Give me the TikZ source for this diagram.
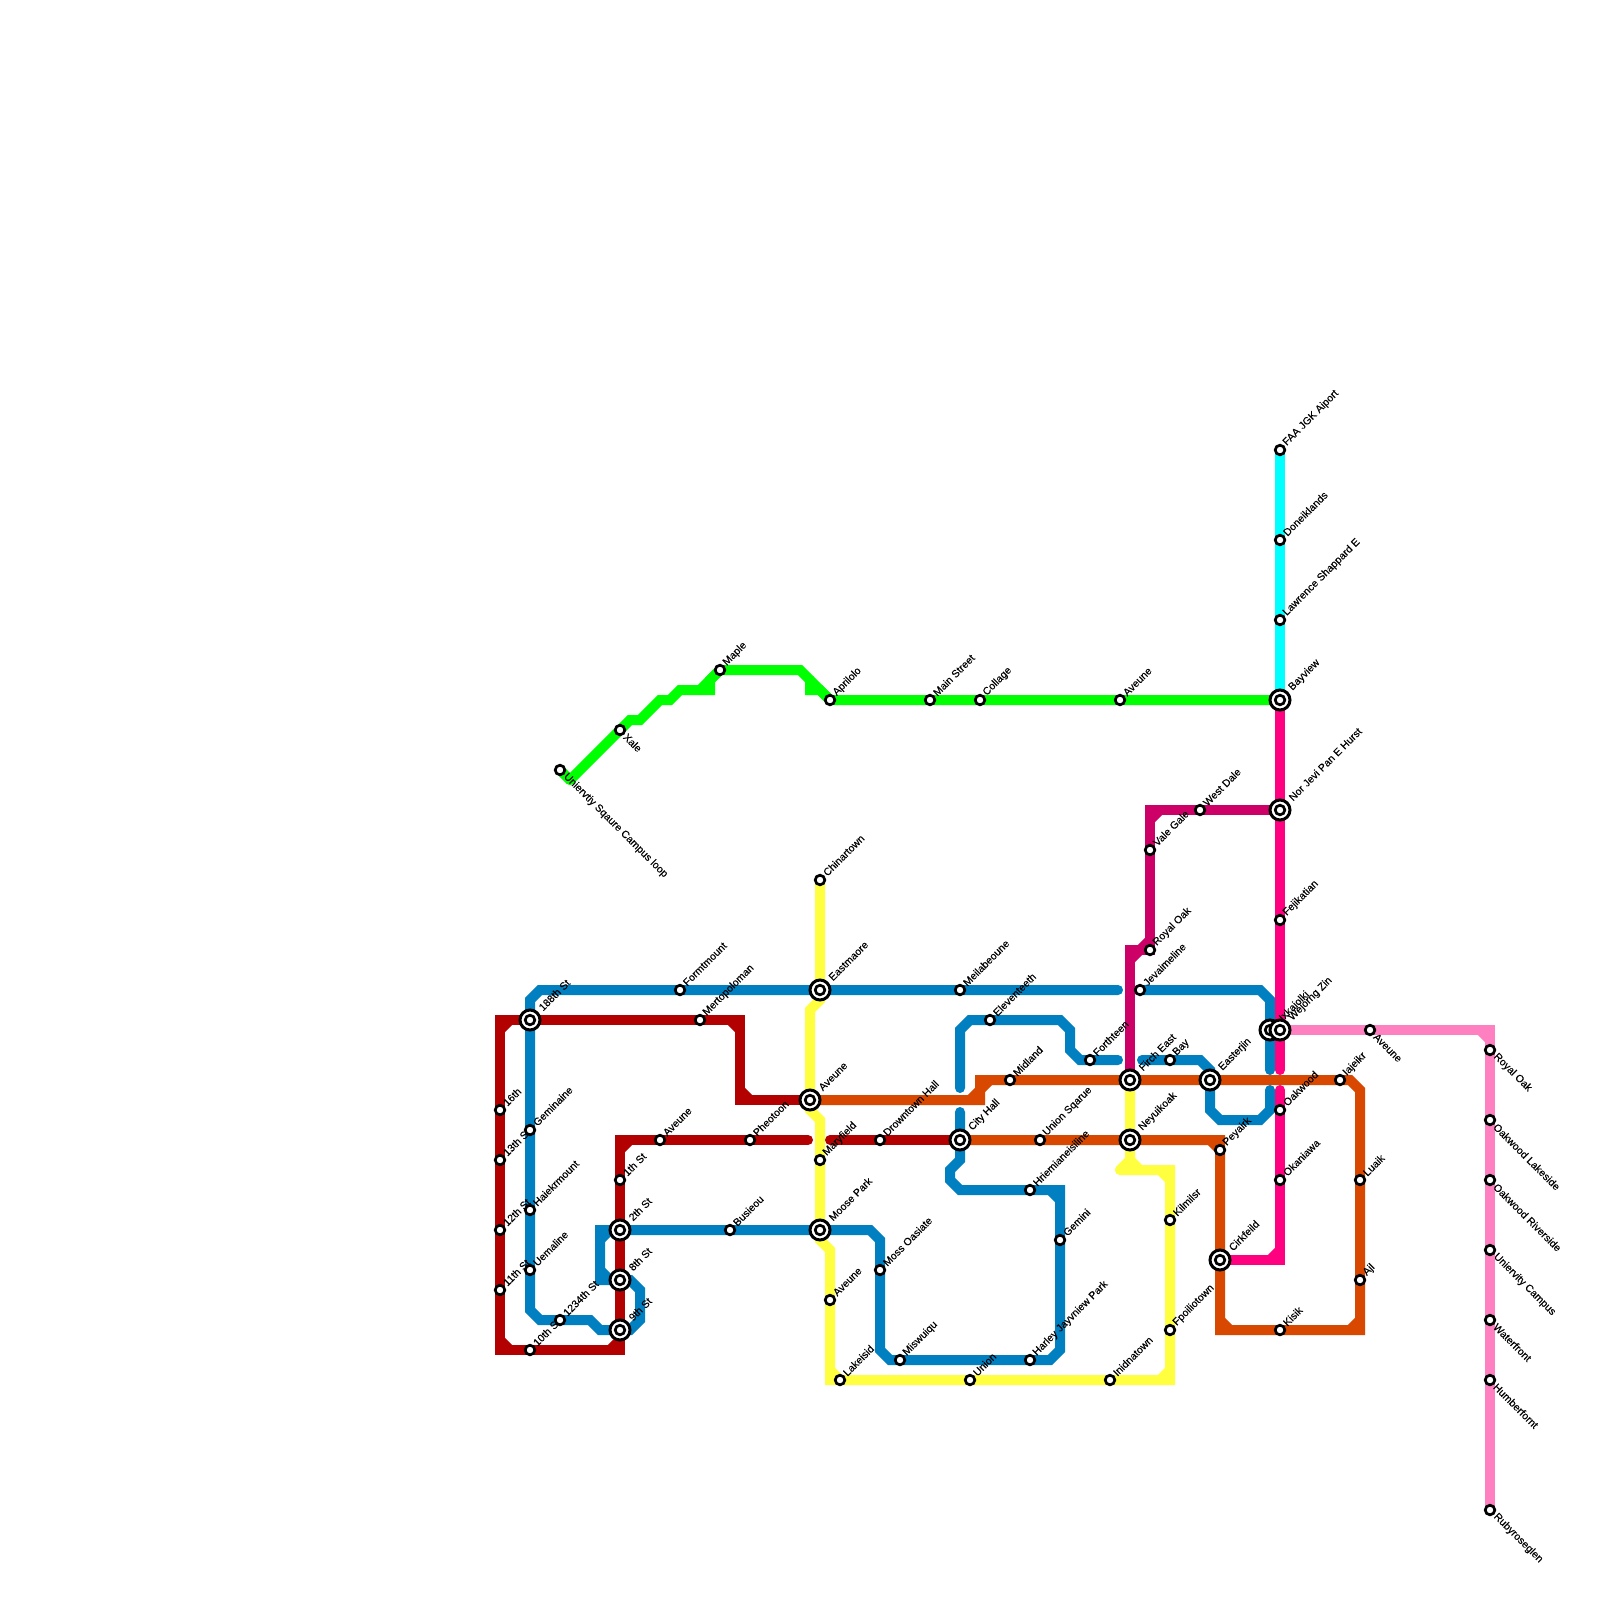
\documentclass[tikz,border=0pt]{standalone}
\usepackage{fontspec}
\setmainfont{Liberation Sans}
\newfontfamily\labfont{Liberation Sans}[FakeBold=0.15]
\pgfdeclarelayer{top}
\pgfsetlayers{main,top}
\definecolor{cred}{HTML}{B30000}
\definecolor{cblue}{HTML}{0080C0}
\definecolor{cgreen}{HTML}{00FF00}
\definecolor{ccyan}{HTML}{00FFFF}
\definecolor{cpink}{HTML}{FF0080}
\definecolor{cpurple}{HTML}{CC0066}
\definecolor{cpale}{HTML}{FF80C0}
\definecolor{corange}{HTML}{D94800}
\definecolor{cyellow}{HTML}{FFFF40}
\tikzset{
 metro/.style={line width=5pt,line join=miter,line cap=round},
 stn/.style={circle,draw=black,fill=white,line width=1.35pt,minimum size=4.8pt,inner sep=0pt,outer sep=0pt},
 hubo/.style={circle,draw=black,fill=white,line width=1.5pt,minimum size=10pt,inner sep=0pt,outer sep=0pt},
 hubi/.style={stn},
 lab/.style={anchor=west,inner sep=0pt,font=\labfont\fontsize{5.25pt}{6pt}\selectfont,text=black},
}
\newcommand{\SU}[2]{\node[lab,rotate=45] (#1-l) at ([shift={(4.6,-5.6)}]#1) {#2};
 \begin{pgfonlayer}{top}\node[stn] (#1-s) at (#1) {};\end{pgfonlayer}}
\newcommand{\SD}[2]{\node[lab,rotate=-45] (#1-l) at ([shift={(5,5)}]#1) {#2};
 \begin{pgfonlayer}{top}\node[stn] (#1-s) at (#1) {};\end{pgfonlayer}}
\newcommand{\HU}[2]{\node[lab,rotate=45] (#1-l) at ([shift={(10.2,-10.8)}]#1) {#2};
 \begin{pgfonlayer}{top}\node[hubo] (#1-s) at (#1) {};\node[hubi] (#1-i) at (#1) {};\end{pgfonlayer}}
\begin{document}
\begin{tikzpicture}[x=0.5pt,y=-0.5pt]
\useasboundingbox (0,0) rectangle (1600,1600);
\fill[white] (0,0) rectangle (1600,1600);
% stations
\coordinate (a16) at (500,1110);
\coordinate (a13) at (500,1160);
\coordinate (a12) at (500,1230);
\coordinate (a11) at (500,1290);
\coordinate (a10) at (530,1350);
\coordinate (a1234) at (560,1320);
\coordinate (gemi) at (530,1130);
\coordinate (haie) at (530,1210);
\coordinate (uema) at (530,1270);
\coordinate (a188) at (530,1020);
\coordinate (a1th) at (620,1180);
\coordinate (a2th) at (620,1230);
\coordinate (a8th) at (620,1280);
\coordinate (a9th) at (620,1330);
\coordinate (avea) at (660,1140);
\coordinate (pheo) at (750,1140);
\coordinate (busi) at (730,1230);
\coordinate (form) at (680,990);
\coordinate (mert) at (700,1020);
\coordinate (east) at (820,990);
\coordinate (chin) at (820,880);
\coordinate (aveb) at (810,1100);
\coordinate (mary) at (820,1160);
\coordinate (moos) at (820,1230);
\coordinate (avec) at (830,1300);
\coordinate (lake) at (840,1380);
\coordinate (mosso) at (880,1270);
\coordinate (misw) at (900,1360);
\coordinate (drow) at (880,1140);
\coordinate (city) at (960,1140);
\coordinate (meil) at (960,990);
\coordinate (elev) at (990,1020);
\coordinate (midl) at (1010,1080);
\coordinate (usq) at (1040,1140);
\coordinate (hrie) at (1030,1190);
\coordinate (gemb) at (1060,1240);
\coordinate (harl) at (1030,1360);
\coordinate (unio) at (970,1380);
\coordinate (inid) at (1110,1380);
\coordinate (fpoi) at (1170,1330);
\coordinate (kilm) at (1170,1220);
\coordinate (fort) at (1090,1060);
\coordinate (firc) at (1130,1080);
\coordinate (neyu) at (1130,1140);
\coordinate (jeva) at (1140,990);
\coordinate (bay) at (1170,1060);
\coordinate (eastj) at (1210,1080);
\coordinate (peya) at (1220,1150);
\coordinate (cirk) at (1220,1260);
\coordinate (ixka) at (1270,1030);
\coordinate (wejo) at (1280,1030);
\coordinate (oakw) at (1280,1110);
\coordinate (okan) at (1280,1180);
\coordinate (kisi) at (1280,1330);
\coordinate (iaje) at (1340,1080);
\coordinate (luai) at (1360,1180);
\coordinate (ajl) at (1360,1280);
\coordinate (roya) at (1150,950);
\coordinate (vale) at (1150,850);
\coordinate (west) at (1200,810);
\coordinate (norj) at (1280,810);
\coordinate (feji) at (1280,920);
\coordinate (bayv) at (1280,700);
\coordinate (lawr) at (1280,620);
\coordinate (done) at (1280,540);
\coordinate (faa) at (1280,450);
\coordinate (aved) at (1120,700);
\coordinate (coll) at (980,700);
\coordinate (main) at (930,700);
\coordinate (apri) at (830,700);
\coordinate (mapl) at (720,670);
\coordinate (xale) at (620,730);
\coordinate (univ) at (560,770);
\coordinate (avee) at (1370,1030);
\coordinate (royb) at (1490,1050);
\coordinate (oakl) at (1490,1120);
\coordinate (oakr) at (1490,1180);
\coordinate (ucam) at (1490,1250);
\coordinate (wate) at (1490,1320);
\coordinate (humb) at (1490,1380);
\coordinate (ruby) at (1490,1510);
% yellow
\draw[metro,cyellow] (chin) -- (east) -- (820,1000) -- (810,1010) -- (aveb) -- (810,1110) -- (820,1120) -- (mary) -- (moos) -- (820,1240) -- (830,1250) -- (avec) -- (830,1380) -- (lake) -- (unio) -- (inid) -- (1170,1380) -- (fpoi) -- (kilm) -- (1170,1170) -- (1120,1170);
\draw[metro,cyellow] (1120,1170) -- (1130,1160) -- (neyu) -- (firc);
\draw[metro,cyellow] (830,1370) -- (lake) (1160,1380) -- (1170,1370) (1160,1170) -- (1170,1180) (1130,1160) -- (1140,1170);
% blue
\draw[metro,cblue] (a188) -- (530,1000) -- (540,990) -- (form) -- (east) -- (meil) -- (1118,990);
\draw[metro,cblue] (jeva) -- (1260,990) -- (1270,1000) -- (ixka) -- (1270,1070);
\draw[metro,cblue] (1270,1090) -- (1270,1110) -- (1260,1120) -- (1220,1120) -- (1210,1110) -- (eastj) -- (1210,1070) -- (1200,1060) -- (bay) -- (1142,1060);
\draw[metro,cblue] (1118,1060) -- (fort) -- (1080,1060) -- (1070,1050) -- (1070,1030) -- (1060,1020) -- (elev) -- (970,1020) -- (960,1030) -- (960,1088);
\draw[metro,cblue] (960,1112) -- (city) -- (960,1160) -- (950,1170) -- (950,1180) -- (960,1190) -- (hrie) -- (1060,1190) -- (gemb) -- (1060,1350) -- (1050,1360) -- (harl) -- (misw) -- (890,1360) -- (880,1350) -- (mosso) -- (880,1240) -- (870,1230) -- (moos) -- (busi) -- (a2th) -- (600,1230) -- (600,1280) -- (a8th) -- (630,1280) -- (640,1290) -- (640,1320) -- (630,1330) -- (a9th) -- (600,1330) -- (590,1320) -- (a1234) -- (540,1320) -- (530,1310) -- (uema) -- (haie) -- (gemi) -- (a188);
\draw[metro,cblue] (1050,1190) -- (1060,1200) (600,1240) -- (610,1230) (600,1270) -- (610,1280);
% red
\draw[metro,cred] (aveb) -- (740,1100) -- (740,1020) -- (mert) -- (a188) -- (500,1020) -- (a16) -- (a13) -- (a12) -- (a11) -- (500,1350) -- (a10) -- (620,1350) -- (a9th) -- (a8th) -- (a2th) -- (a1th) -- (620,1140) -- (avea) -- (pheo) -- (808,1140);
\draw[metro,cred] (830,1140) -- (drow) -- (city);
\draw[metro,cred] (730,1020) -- (740,1030) (740,1090) -- (750,1100) (500,1030) -- (510,1020) (500,1340) -- (510,1350) (610,1350) -- (620,1340) (620,1150) -- (630,1140);
% orange
\draw[metro,corange] (aveb) -- (980,1100) -- (980,1080) -- (midl) -- (firc) -- (eastj) -- (iaje) -- (1350,1080) -- (1360,1090) -- (luai) -- (ajl) -- (1360,1330) -- (kisi) -- (1220,1330) -- (cirk) -- (peya) -- (1220,1140) -- (neyu) -- (usq) -- (city);
\draw[metro,corange] (970,1100) -- (980,1090) -- (990,1080) (1350,1330) -- (1360,1320) (1220,1320) -- (1230,1330) (1210,1140) -- (1220,1150);
% purple
\draw[metro,cpurple] (norj) -- (west) -- (1150,810) -- (vale) -- (roya) -- (1130,950) -- (firc);
\draw[metro,cpurple] (1150,820) -- (1160,810) (1150,940) -- (1140,950) -- (1130,960);
% pink
\draw[metro,cpink] (bayv) -- (norj) -- (feji) -- (wejo) -- (1280,1070);
\draw[metro,cpink] (1280,1090) -- (oakw) -- (okan) -- (1280,1260) -- (cirk);
\draw[metro,cpink] (1270,1260) -- (1280,1250);
% pale
\draw[metro,cpale] (wejo) -- (avee) -- (1490,1030) -- (royb) -- (oakl) -- (oakr) -- (ucam) -- (wate) -- (humb) -- (ruby);
\draw[metro,cpale] (1480,1030) -- (1490,1040);
% green
\draw[metro,cgreen] (univ) -- (570,780);
\draw[metro,cgreen] (570,780) -- (xale) -- (630,720) -- (640,720) -- (660,700) -- (670,700) -- (680,690) -- (710,690) -- (710,680) -- (mapl) -- (800,670) -- (apri) -- (main) -- (coll) -- (aved) -- (bayv);
\draw[metro,cgreen] (700,690) -- (mapl) (810,680) -- (810,690) -- (820,690) -- (apri);
% cyan
\draw[metro,ccyan] (faa) -- (done) -- (lawr) -- (bayv);
% labels and stations
\SU{a16}{16th}
\SU{a13}{13th St}
\SU{a12}{12th St}
\SU{a11}{11th St}
\SU{a10}{10th St}
\SU{a1234}{1234th St}
\SU{gemi}{Geminaine}
\SU{haie}{Haiekrmount}
\SU{uema}{Uemaline}
\HU{a188}{188th St}
\SU{a1th}{1th St}
\HU{a2th}{2th St}
\HU{a8th}{8th St}
\HU{a9th}{9th St}
\SU{avea}{Aveune}
\SU{pheo}{Pheotoon}
\SU{busi}{Busieou}
\SU{form}{Formtmount}
\SU{mert}{Mertopoloman}
\HU{east}{Eastmaore}
\SU{chin}{Chinartown}
\HU{aveb}{Aveune}
\SU{mary}{Maryfield}
\HU{moos}{Moose Park}
\SU{avec}{Aveune}
\SU{lake}{Lakeisid}
\SU{mosso}{Moss Oasiate}
\SU{misw}{Miswuiqu}
\SU{drow}{Drowntown Hall}
\HU{city}{City Hall}
\SU{meil}{Meilabeoune}
\SU{elev}{Eleventeeth}
\SU{midl}{Midland}
\SU{usq}{Union Sqarue}
\SU{hrie}{Hriemianeisiline}
\SU{gemb}{Gemini}
\SU{harl}{Harley Jayvniew Park}
\SU{unio}{Union}
\SU{inid}{Inidnatown}
\SU{fpoi}{Fpoiliotown}
\SU{kilm}{Kilmilsr}
\SU{fort}{Forthteen}
\HU{firc}{Firch East}
\HU{neyu}{Neyuikoak}
\SU{jeva}{Jevaimeline}
\SU{bay}{Bay}
\HU{eastj}{Easterjin}
\SU{peya}{Peyairk}
\HU{cirk}{Cirkfeild}
\HU{ixka}{Ixkaiolki}
\HU{wejo}{Wejorng Zin}
\SU{oakw}{Oakwood}
\SU{okan}{Okaniawa}
\SU{kisi}{Kisik}
\SU{iaje}{Iajeikr}
\SU{luai}{Luaik}
\SU{ajl}{Ajl}
\SU{roya}{Royal Oak}
\SU{vale}{Vale Gale}
\SU{west}{West Dale}
\HU{norj}{Nor Jevi Pan E Hurst}
\SU{feji}{Fejikatian}
\HU{bayv}{Bayview}
\SU{lawr}{Lawrence Shappard E}
\SU{done}{Doneiklands}
\SU{faa}{FAA JGK Aiport}
\SU{aved}{Aveune}
\SU{coll}{Collage}
\SU{main}{Main Street}
\SU{apri}{Aprilolo}
\SU{mapl}{Maple}
\SD{xale}{Xale}
\SD{univ}{Uniervtiy Sqaure Campus loop}
\SD{avee}{Aveune}
\SD{royb}{Royal Oak}
\SD{oakl}{Oakwood Lakeside}
\SD{oakr}{Oakwood Riverside}
\SD{ucam}{Uniervity Campus}
\SD{wate}{Waterfront}
\SD{humb}{Humberfornt}
\SD{ruby}{Rubyroseglen}
\end{tikzpicture}
\end{document}
